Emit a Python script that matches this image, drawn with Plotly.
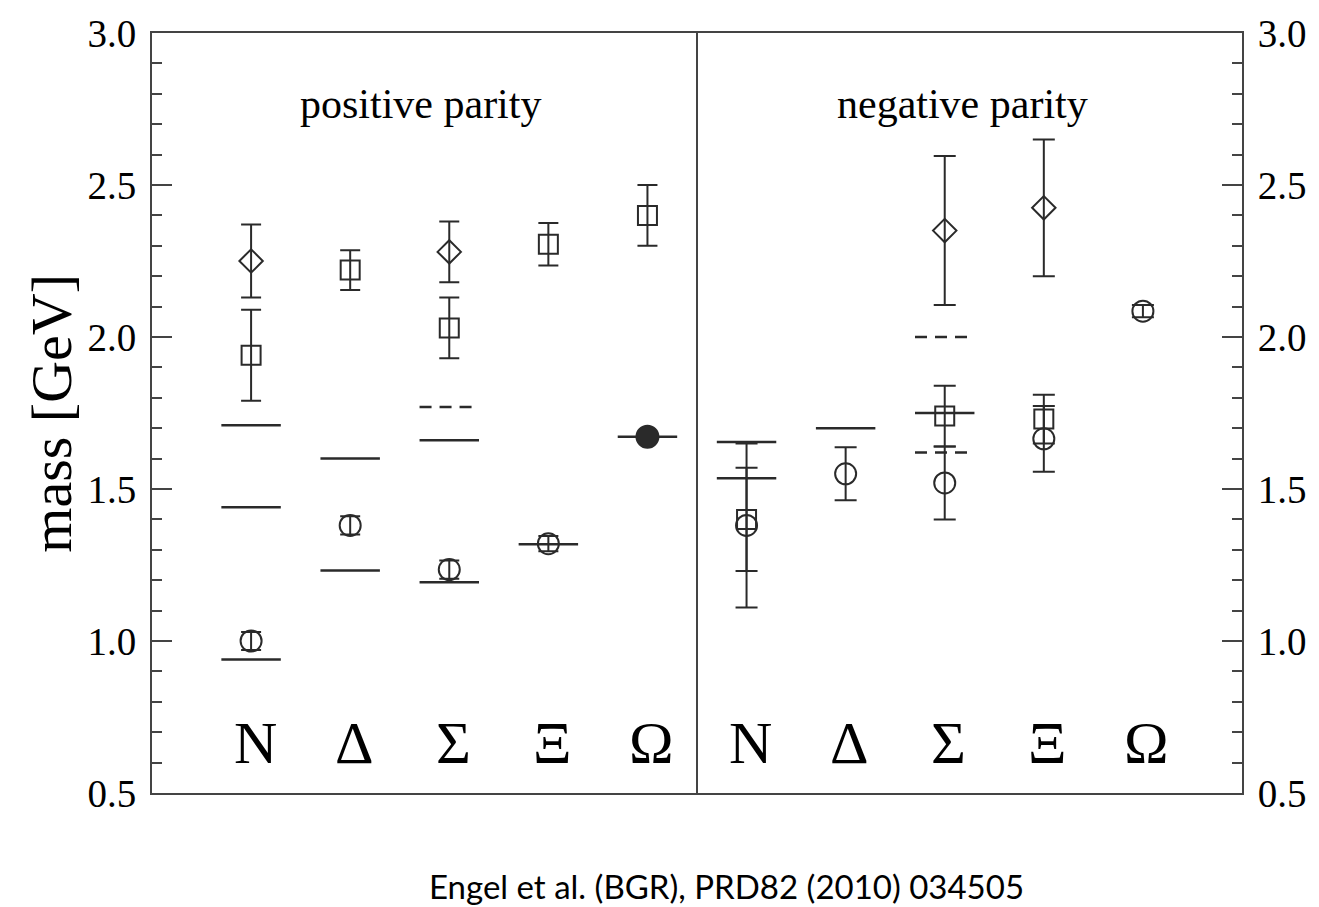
import plotly.graph_objects as go

# Baryon species and their horizontal positions (positive parity 1-5, negative parity 6-10)
species = ["N", "Δ", "Σ", "Ξ", "Ω"]
pos_x = [1, 2, 3, 4, 5]
neg_x = [6, 7, 8, 9, 10]
panel_split = 5.5

# Lattice results: positive parity (GeV)
pos_circle_x = [1, 2, 3, 4]
pos_circle_m = [1.00, 1.38, 1.235, 1.32]
pos_circle_err = [0.03, 0.03, 0.03, 0.025]

pos_filled_x = [5]
pos_filled_m = [1.672]

pos_square_x = [1, 2, 3, 4, 5]
pos_square_m = [1.94, 2.22, 2.03, 2.305, 2.40]
pos_square_err = [0.15, 0.065, 0.10, 0.07, 0.10]

pos_diamond_x = [1, 3]
pos_diamond_m = [2.25, 2.28]
pos_diamond_err = [0.12, 0.10]

# Lattice results: negative parity (GeV)
neg_circle_x = [6, 7, 8, 9, 10]
neg_circle_m = [1.38, 1.55, 1.52, 1.665, 2.085]
neg_circle_err = [0.27, 0.087, 0.12, 0.108, 0.02]

neg_square_x = [6, 8, 9]
neg_square_m = [1.40, 1.74, 1.73]
neg_square_err = [0.17, 0.10, 0.08]

neg_diamond_x = [8, 9]
neg_diamond_m = [2.35, 2.425]
neg_diamond_err = [0.245, 0.225]

# Experimental states (solid: established, dashed: less certain)
exp_solid_x = [1, 1, 1, 2, 2, 3, 3, 4, 5, 6, 6, 7, 8]
exp_solid_m = [0.939, 1.440, 1.710, 1.232, 1.600, 1.193, 1.660, 1.318, 1.672,
               1.535, 1.655, 1.700, 1.750]
exp_dashed_x = [3, 8, 8]
exp_dashed_m = [1.770, 2.000, 1.620]
exp_halfwidth = 0.3

INK = "#2a2a2a"
FRAME = "#444444"
SERIF = "Liberation Serif, Times New Roman, serif"


def level_segments(xs, ms, hw):
    lx, ly = [], []
    for x, m in zip(xs, ms):
        lx += [x - hw, x + hw, None]
        ly += [m, m, None]
    return lx, ly


fig = go.Figure()

sx, sy = level_segments(exp_solid_x, exp_solid_m, exp_halfwidth)
fig.add_trace(go.Scatter(x=sx, y=sy, mode="lines", line=dict(color=INK, width=2.5),
                         showlegend=False, hoverinfo="skip"))
dx, dy = level_segments(exp_dashed_x, exp_dashed_m, exp_halfwidth)
fig.add_trace(go.Scatter(x=dx, y=dy, mode="lines",
                         line=dict(color=INK, width=2.5, dash="12px,8px"),
                         showlegend=False, hoverinfo="skip"))


def lattice(xs, ms, errs, symbol, size):
    kw = dict(x=xs, y=ms, mode="markers", showlegend=False,
              marker=dict(symbol=symbol, size=size, color=INK,
                          line=dict(color=INK, width=2)))
    if errs is not None:
        kw["error_y"] = dict(type="data", array=errs, visible=True,
                             color=INK, thickness=2, width=10)
    return go.Scatter(**kw)


fig.add_trace(lattice(pos_circle_x, pos_circle_m, pos_circle_err, "circle-open", 21))
fig.add_trace(lattice(pos_square_x, pos_square_m, pos_square_err, "square-open", 19))
fig.add_trace(lattice(pos_diamond_x, pos_diamond_m, pos_diamond_err, "diamond-open", 18))
fig.add_trace(lattice(pos_filled_x, pos_filled_m, None, "circle", 22))

for tr in [lattice(neg_circle_x, neg_circle_m, neg_circle_err, "circle-open", 21),
           lattice(neg_square_x, neg_square_m, neg_square_err, "square-open", 19),
           lattice(neg_diamond_x, neg_diamond_m, neg_diamond_err, "diamond-open", 18)]:
    tr.update(yaxis="y2", error_y_width=11)
    fig.add_trace(tr)

# Species labels along the bottom of each panel
for xs in (pos_x, neg_x):
    for x, name in zip(xs, species):
        fig.add_annotation(x=x, y=0.665, text=name, showarrow=False, xshift=4,
                           font=dict(family=SERIF, size=60, color="black"))

fig.add_annotation(x=2.71, y=2.765, text="positive parity", showarrow=False,
                   font=dict(family=SERIF, size=42, color="black"))
fig.add_annotation(x=8.18, y=2.765, text="negative parity", showarrow=False,
                   font=dict(family=SERIF, size=42, color="black"))

fig.add_annotation(xref="paper", yref="paper", x=-0.093, y=0.50, text="mass [GeV]",
                   textangle=-90, showarrow=False, xanchor="center", yanchor="middle",
                   font=dict(family=SERIF, size=58, color="black"))

fig.add_annotation(xref="paper", yref="paper", x=0.527, y=-0.122,
                   text="Engel et al. (BGR), PRD82 (2010) 034505", showarrow=False,
                   xanchor="center", yanchor="middle",
                   font=dict(family="Lato, sans-serif", size=33, color="black"))

fig.add_shape(type="line", x0=panel_split, x1=panel_split, y0=0, y1=1,
              xref="x", yref="paper", line=dict(color=FRAME, width=2))

yaxis_common = dict(
    range=[0.5, 3.0], dtick=0.5, tick0=0.5, tickformat=".1f",
    ticks="inside", ticklen=20, tickwidth=2, tickcolor=FRAME,
    minor=dict(dtick=0.1, ticks="inside", ticklen=10, tickwidth=2, tickcolor=FRAME),
    showgrid=False, zeroline=False, showline=True, linecolor=FRAME, linewidth=2,
    tickfont=dict(family=SERIF, size=39, color="black"), ticklabelstandoff=6,
)

fig.update_layout(
    width=1319, height=907,
    margin=dict(l=152, r=76, t=28, b=114),
    paper_bgcolor="white", plot_bgcolor="white",
    xaxis=dict(range=[0, 11], showticklabels=False, ticks="", showgrid=False,
               zeroline=False, showline=True, mirror=True, linecolor=FRAME, linewidth=2),
    yaxis=dict(side="left", **yaxis_common),
    yaxis2=dict(side="right", overlaying="y", matches="y", **yaxis_common),
)

fig.write_html("out.html")
